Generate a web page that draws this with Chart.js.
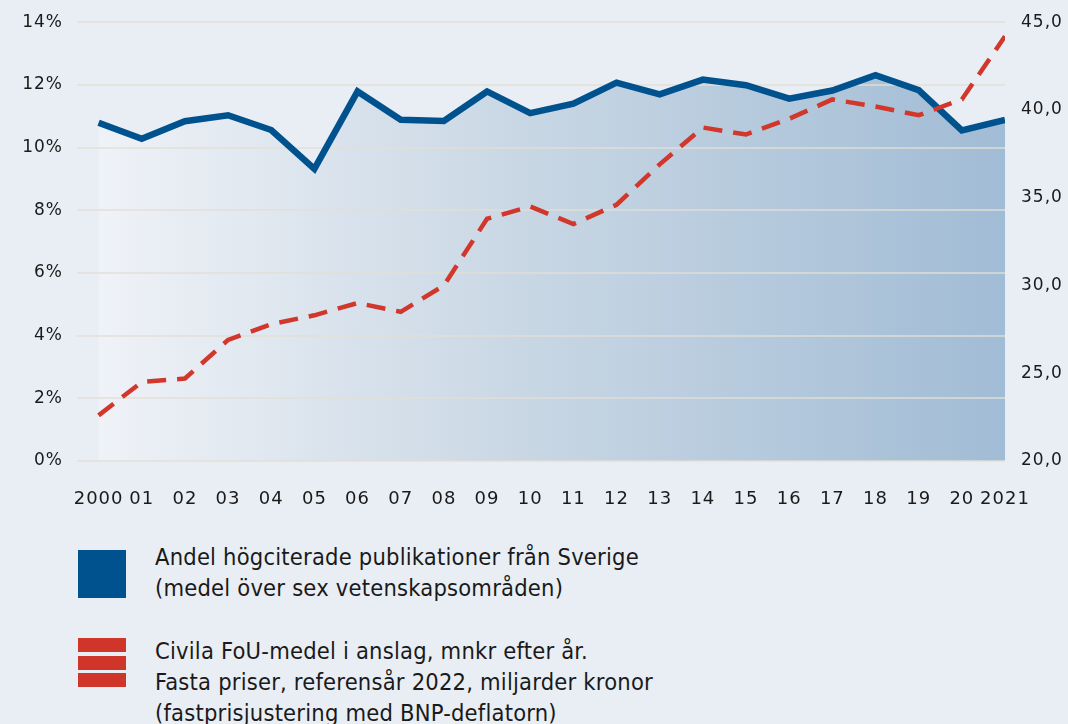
<!DOCTYPE html>
<html>
<head>
<meta charset="utf-8">
<script src="https://cdn.jsdelivr.net/npm/chart.js@4.4.1/dist/chart.umd.min.js"></script>
<style>
  body { margin: 0; background: #e9eef5; width: 1068px; height: 724px; overflow: hidden; position: relative; }
  #box { position: absolute; left: 0; top: -4px; width: 1068px; height: 534px; }
  .sym { position: absolute; left: 78px; width: 48px; }
  .txt { position: absolute; left: 155px; font-family: "DejaVu Sans Condensed", "Liberation Sans Narrow", sans-serif;
         font-size: 23.5px; line-height: 31px; color: #1a1a1a; white-space: nowrap; letter-spacing: 0.2px; }
</style>
</head>
<body>
<div id="box"><canvas id="chart"></canvas></div>

<div class="sym" style="top:550px;height:48px;background:#00528e"></div>
<div class="txt" style="top:542px">Andel högciterade publikationer från Sverige<br>(medel över sex vetenskapsområden)</div>

<div class="sym" style="top:638px;height:14px;background:#d0352a"></div>
<div class="sym" style="top:656px;height:14px;background:#d0352a"></div>
<div class="sym" style="top:673px;height:14px;background:#d0352a"></div>
<div class="txt" style="top:636px">Civila FoU-medel i anslag, mnkr efter år.<br>Fasta priser, referensår 2022, miljarder kronor<br>(fastprisjustering med BNP-deflatorn)</div>

<script>
const years = [2000,2001,2002,2003,2004,2005,2006,2007,2008,2009,2010,2011,2012,2013,2014,2015,2016,2017,2018,2019,2020,2021];
const yearLabels = ["2000","01","02","03","04","05","06","07","08","09","10","11","12","13","14","15","16","17","18","19","20","2021"];

// andel högciterade publikationer, procent (vänster axel)
const shareHighCited = [10.79,10.28,10.84,11.03,10.56,9.32,11.79,10.89,10.85,11.79,11.10,11.40,12.07,11.70,12.17,11.99,11.56,11.82,12.31,11.83,10.55,10.88];
// civila FoU-medel, miljarder kronor (höger axel)
const civilFunds = [22.6,24.5,24.7,26.9,27.8,28.3,29.0,28.5,30.0,33.8,34.5,33.5,34.6,36.9,39.0,38.6,39.5,40.6,40.2,39.7,40.6,44.2];

const leftTicks = [0,2,4,6,8,10,12,14];
const rightTicks = [20,25,30,35,40,45];

const tickFont = { family: "DejaVu Sans", size: 17 };

// gridlines lie over the blue fill but under the lines
const gridOverFill = {
  id: 'gridOverFill',
  beforeDraw(chart) {
    chart.ctx.letterSpacing = '1px';
  },
  beforeDatasetDraw(chart, args) {
    if (args.index !== 0) return;
    const c = chart.ctx, a = chart.chartArea, s = chart.scales.y;
    c.save();
    c.strokeStyle = 'rgba(226,222,212,0.7)';
    c.lineWidth = 2;
    leftTicks.forEach(v => {
      const py = Math.round(s.getPixelForValue(v));
      c.beginPath();
      c.moveTo(a.left, py);
      c.lineTo(a.right, py);
      c.stroke();
    });
    c.restore();
  }
};

new Chart(document.getElementById('chart'), {
  type: 'line',
  data: {
    datasets: [{
      data: years.map((x, i) => ({ x: x, y: shareHighCited[i] })),
      yAxisID: 'y',
      borderColor: '#00528e',
      borderWidth: 6.5,
      pointRadius: 0,
      tension: 0,
      fill: 'origin',
      order: 2,
      backgroundColor: ctx => {
        const a = ctx.chart.chartArea;
        if (!a) return 'rgba(0,0,0,0)';
        const xs = ctx.chart.scales.x;
        const g = ctx.chart.ctx.createLinearGradient(xs.getPixelForValue(2000), 0, a.right, 0);
        g.addColorStop(0, '#eff2f7');
        g.addColorStop(0.5, '#c6d5e3');
        g.addColorStop(1, '#a1bcd5');
        return g;
      }
    }, {
      data: years.map((x, i) => ({ x: x, y: civilFunds[i] })),
      yAxisID: 'y1',
      borderColor: '#d1372b',
      borderWidth: 4.5,
      borderDash: [19, 11],
      pointRadius: 0,
      tension: 0,
      fill: false,
      order: 1
    }]
  },
  options: {
    responsive: true,
    maintainAspectRatio: false,
    animation: false,
    layout: { padding: { top: 15, left: 0, right: 0, bottom: 0 } },
    plugins: { legend: { display: false }, tooltip: { enabled: false } },
    scales: {
      x: {
        type: 'linear',
        min: 1999.5,
        max: 2021,
        afterBuildTicks: s => { s.ticks = years.map(v => ({ value: v })); },
        afterFit: s => { s.height = 69; },
        grid: { display: false, drawTicks: false },
        border: { display: false },
        ticks: {
          autoSkip: false, maxRotation: 0, padding: 28,
          color: '#1a1a1a', font: { family: "DejaVu Sans", size: 18 },
          callback: v => yearLabels[years.indexOf(v)]
        }
      },
      y: {
        position: 'left',
        min: 0, max: 14,
        afterBuildTicks: s => { s.ticks = leftTicks.map(v => ({ value: v })); },
        afterFit: s => { s.width = 77; },
        grid: { display: false, drawTicks: false },
        border: { display: false },
        ticks: { padding: 14, color: '#1a1a1a', font: tickFont, callback: v => v + '%' }
      },
      y1: {
        position: 'right',
        min: 20, max: 45,
        afterBuildTicks: s => { s.ticks = rightTicks.map(v => ({ value: v })); },
        afterFit: s => { s.width = 63; },
        grid: { display: false, drawTicks: false },
        border: { display: false },
        ticks: { padding: 16, color: '#1a1a1a', font: tickFont, callback: v => v.toFixed(1).replace('.', ',') }
      }
    }
  },
  plugins: [gridOverFill]
});
</script>
</body>
</html>
